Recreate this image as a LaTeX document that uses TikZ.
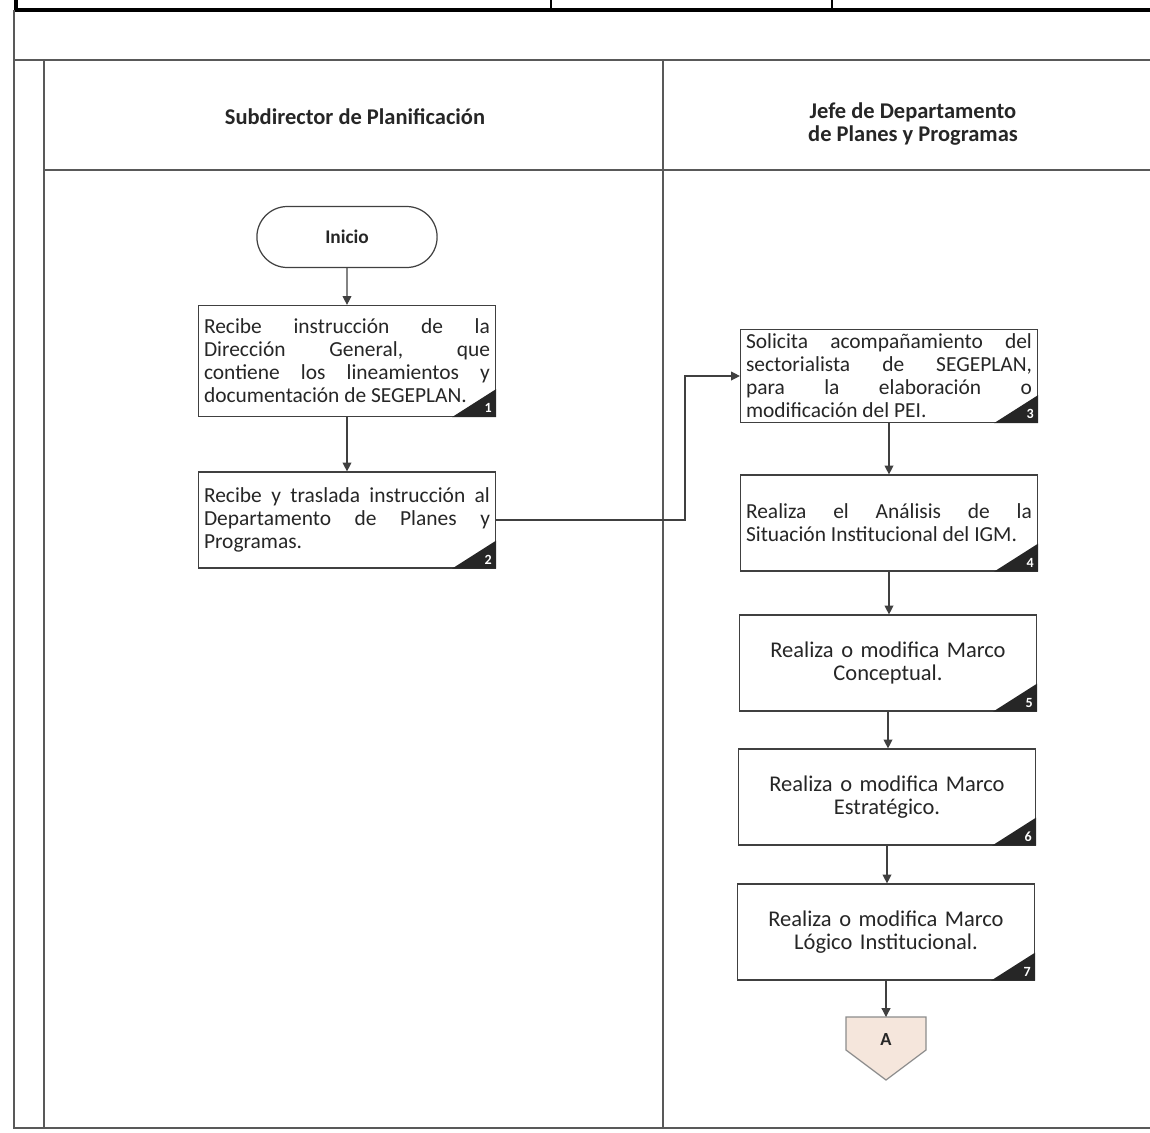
\documentclass[tikz,border=0pt]{standalone}
\usepackage{fontspec}
\setmainfont{Carlito}
\usetikzlibrary{arrows.meta,shapes.misc}

\begin{document}
\begin{tikzpicture}[
x=0.02cm, y=-0.02cm,
marco/.style={line width=0.8pt, draw=black!65},
titulo/.style={font=\bfseries\fontsize{12.8}{12.6}\selectfont, text=black!85, align=center},
inicio/.style={rounded rectangle, draw=black!75, line width=0.7pt, minimum width=3.84cm, minimum height=1.22cm, font=\bfseries\fontsize{11}{12}\selectfont, text=black!85},
paso/.style={draw=black!75, line width=0.7pt, fill=white, inner sep=0pt, minimum width=5.94cm, minimum height=1.92cm, text width=5.72cm, align=justify, font=\fontsize{12.2}{13.1}\selectfont, text=black!85},
pasoc/.style={paso, align=center, font=\fontsize{12.8}{13.1}\selectfont},
flecha/.style={draw=black!75, line width=0.7pt, -{Triangle[length=5pt,width=5pt]}},
num/.style={text=white, font=\bfseries\fontsize{8}{9}\selectfont, inner sep=0pt},
]
\useasboundingbox (0,0) rectangle (1150,1133);
\draw[line width=2pt] (16,0) -- (16,10) -- (1150,10);
\draw[line width=1pt] (551,0) -- (551,10) (832,0) -- (832,10);
\draw[marco] (14,10) -- (14,1128) -- (1150,1128);
\draw[marco] (14,60) -- (1150,60);
\draw[marco] (44,60) -- (44,1128);
\draw[marco] (44,170) -- (1150,170);
\draw[marco] (663,60) -- (663,1128);

\node[titulo] (h1) at (355,117) {Subdirector de Planificación};
\node[titulo] (h2) at (913,124) {Jefe de Departamento\\de Planes y Programas};

\node[inicio] (ini) at (347,237) {Inicio};
\node[paso, minimum height=2.22cm] (b1) at (347,361)
{Recibe instrucción de la\linebreak Dirección General, que\linebreak contiene los lineamientos y\linebreak documentación de SEGEPLAN.};
\node[paso] (b2) at (347,520)
{Recibe y traslada instrucción al\linebreak Departamento de Planes y\linebreak Programas.};
\node[paso, minimum height=1.86cm] (b3) at (889,376)
{Solicita acompañamiento del\linebreak sectorialista de SEGEPLAN,\linebreak para la elaboración o\linebreak modificación del PEI.};
\node[paso] (b4) at (889,523)
{Realiza el Análisis de la\linebreak Situación Institucional del IGM.};
\node[pasoc] (b5) at (888,663) {Realiza o modifica Marco\\Conceptual.};
\node[pasoc] (b6) at (887,797) {Realiza o modifica Marco\\Estratégico.};
\node[pasoc] (b7) at (886,932) {Realiza o modifica Marco\\Lógico Institucional.};

\foreach \n in {1,...,7} {
\fill[black!85] (b\n.south east) -- ++(-44,0) -- ++(44,-28) -- cycle;
\node[num] at ([shift={(-8,-9)}]b\n.south east) {\n};
}

\coordinate (ain) at (886,1017);
\draw[draw=black!45, fill={rgb,255:red,245;green,230;blue,220}, line width=0.7pt]
(846,1017) -- (926,1017) -- (926,1050) -- (886,1080) -- (846,1050) -- cycle;
\node[font=\bfseries\fontsize{10.5}{11}\selectfont, text=black!85] (a) at (886,1040) {A};

\draw[flecha] (ini) -- (b1);
\draw[flecha] (b1) -- (b2);
\draw[flecha] (b2.east) -- ++(189,0) |- (b3.west);
\draw[flecha] (b3) -- (b4);
\draw[flecha] (b4.south) -- (b4.south |- b5.north);
\draw[flecha] (b5.south) -- (b5.south |- b6.north);
\draw[flecha] (b6.south) -- (b6.south |- b7.north);
\draw[flecha] (b7.south) -- (ain);
\end{tikzpicture}
\end{document}
